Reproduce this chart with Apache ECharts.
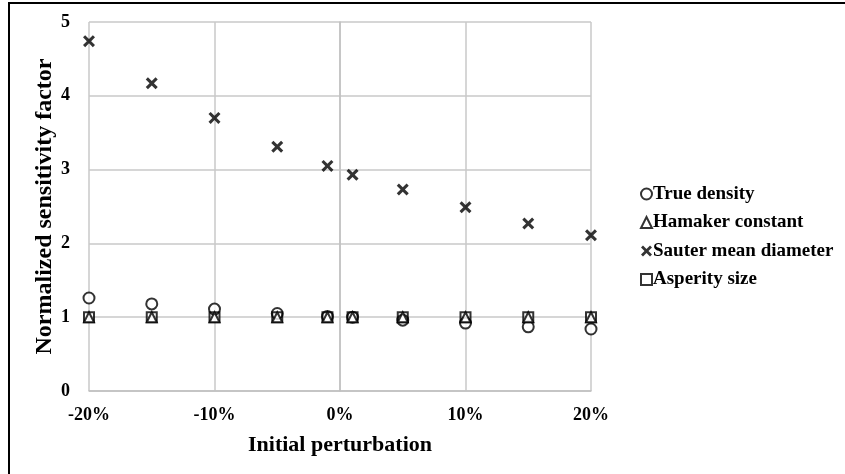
<!DOCTYPE html>
<html>
<head>
<meta charset="utf-8">
<script src="https://cdn.jsdelivr.net/npm/echarts@6/dist/echarts.min.js"></script>
<style>
  html, body { margin: 0; padding: 0; background: #fff; }
  #chart { width: 845px; height: 474px; }
</style>
</head>
<body>
<div id="chart"></div>
<script>
// Perturbation levels (%) and normalized sensitivity factors per parameter
const perturbation = [-20, -15, -10, -5, -1, 1, 5, 10, 15, 20];
const trueDensity = [1.26, 1.18, 1.11, 1.05, 1.01, 1.00, 0.96, 0.92, 0.87, 0.84];
const hamakerConstant = [1, 1, 1, 1, 1, 1, 1, 1, 1, 1];
const sauterMeanDiameter = [4.74, 4.17, 3.70, 3.31, 3.05, 2.93, 2.73, 2.49, 2.27, 2.11];
const asperitySize = [1, 1, 1, 1, 1, 1, 1, 1, 1, 1];

const FONT = '"Liberation Serif", "Times New Roman", serif';
const crossPath = 'path://M0,1.8L1.8,0L5,3.2L8.2,0L10,1.8L6.8,5L10,8.2L8.2,10L5,6.8L1.8,10L0,8.2L3.2,5Z';

const pairs = ys => perturbation.map((x, i) => [x, ys[i]]);

const hollow = { color: '#fff', borderColor: '#000', borderWidth: 2 };

const chart = echarts.init(document.getElementById('chart'), null, { renderer: 'canvas' });
chart.setOption({
  animation: false,
  backgroundColor: '#fff',
  graphic: [{
    type: 'rect',
    shape: { x: 9, y: 3, width: 900, height: 520 },
    style: { fill: 'none', stroke: '#000', lineWidth: 2 },
    silent: true
  }],
  grid: { left: 89, right: 254, top: 22, bottom: 83 },
  legend: {
    orient: 'vertical',
    left: 635,
    top: 179.5,
    itemWidth: 11,
    itemHeight: 11,
    itemGap: 9.5,
    textStyle: { fontFamily: FONT, fontWeight: 'bold', fontSize: 19, color: '#000', lineHeight: 19, padding: [0, 0, 0, -4] },
    data: ['True density', 'Hamaker constant', 'Sauter mean diameter', 'Asperity size']
  },
  xAxis: {
    type: 'value',
    min: -20, max: 20, interval: 10,
    name: 'Initial perturbation',
    nameLocation: 'middle',
    nameGap: 43,
    nameTextStyle: { fontFamily: FONT, fontWeight: 'bold', fontSize: 22, color: '#000' },
    axisLine: { show: true, lineStyle: { color: '#c0c0c0', width: 1.5 } },
    axisTick: { show: false },
    axisLabel: { formatter: v => v + '%', fontFamily: FONT, fontWeight: 'bold', fontSize: 18, color: '#000', margin: 15 },
    splitLine: { show: true, lineStyle: { color: '#c8c8c8', width: 1.5 } }
  },
  yAxis: {
    type: 'value',
    min: 0, max: 5, interval: 1,
    name: 'Normalized sensitivity factor',
    nameLocation: 'middle',
    nameGap: 32,
    nameMoveOverlap: false,
    nameTextStyle: { fontFamily: FONT, fontWeight: 'bold', fontSize: 24, color: '#000' },
    axisLine: { show: true, lineStyle: { color: '#c0c0c0', width: 1.5 } },
    axisTick: { show: false },
    axisLabel: { fontFamily: FONT, fontWeight: 'bold', fontSize: 18, color: '#000', margin: 19 },
    splitLine: { show: true, lineStyle: { color: '#c8c8c8', width: 1.5 } }
  },
  series: [
    { name: 'True density', type: 'scatter', symbol: 'circle', symbolSize: 11, itemStyle: hollow, data: pairs(trueDensity) },
    { name: 'Hamaker constant', type: 'scatter', symbol: 'triangle', symbolSize: 10, itemStyle: hollow, data: pairs(hamakerConstant), z: 3 },
    { name: 'Sauter mean diameter', type: 'scatter', symbol: crossPath, symbolSize: 12, itemStyle: { color: '#000' }, data: pairs(sauterMeanDiameter) },
    { name: 'Asperity size', type: 'scatter', symbol: 'rect', symbolSize: 10, itemStyle: { color: 'rgba(255,255,255,0)', borderColor: '#000', borderWidth: 2 }, data: pairs(asperitySize), z: 2 }
  ]
});
</script>
</body>
</html>
